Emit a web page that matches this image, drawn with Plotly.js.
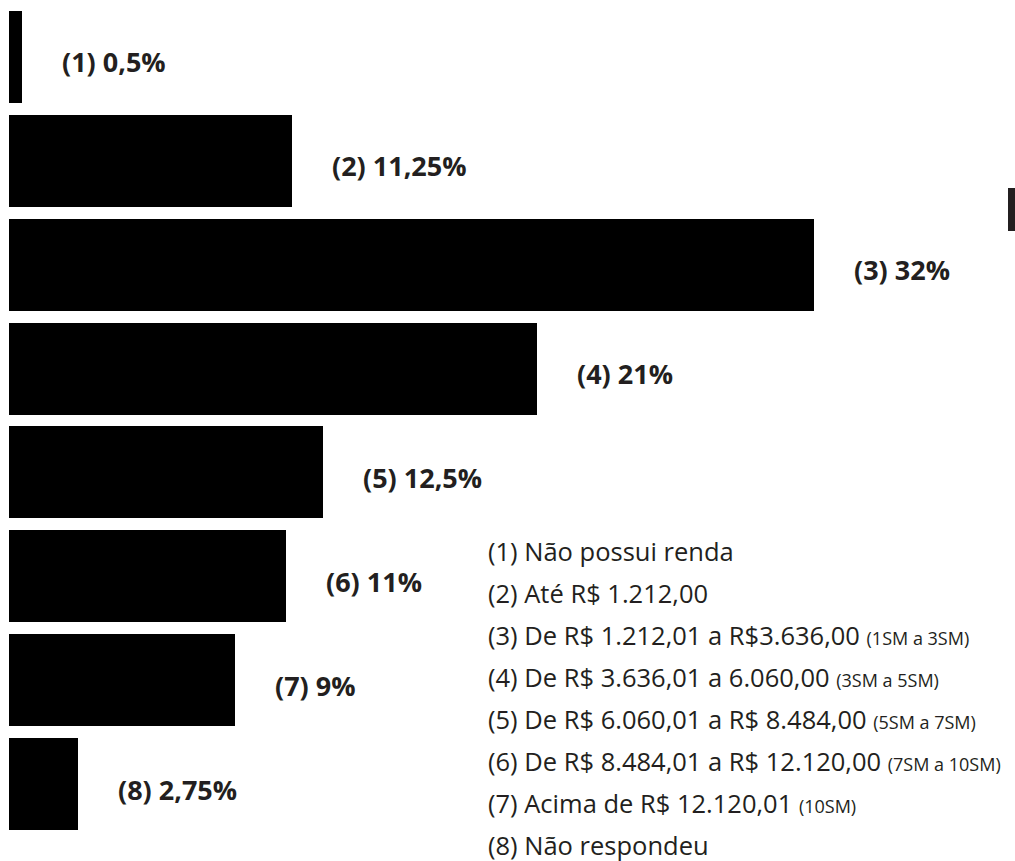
<!DOCTYPE html>
<html>
<head>
<meta charset="utf-8">
<script src="https://cdn.plot.ly/plotly-3.0.1.min.js"></script>
<style>html,body{margin:0;padding:0;background:#fff;}#chart{width:1015px;height:861px;}</style>
</head>
<body>
<div id="chart"></div>
<script>
// ---- data ----
const codes = ["(1)", "(2)", "(3)", "(4)", "(5)", "(6)", "(7)", "(8)"];
const values = [0.5, 11.25, 32, 21, 12.5, 11, 9, 2.75];
const valueLabels = ["0,5%", "11,25%", "32%", "21%", "12,5%", "11%", "9%", "2,75%"];
const legendMain = [
  "Não possui renda",
  "Até R$ 1.212,00",
  "De R$ 1.212,01 a R$3.636,00",
  "De R$ 3.636,01 a 6.060,00",
  "De R$ 6.060,01 a R$ 8.484,00",
  "De R$ 8.484,01 a R$ 12.120,00",
  "Acima de R$ 12.120,01",
  "Não respondeu"
];
const legendNote = ["", "", "(1SM a 3SM)", "(3SM a 5SM)", "(5SM a 7SM)", "(7SM a 10SM)", "(10SM)", ""];

// ---- layout helpers ----
const W = 1015, H = 861;
const M = {l: 9, r: 0, t: 5, b: 25};
const plotH = H - M.t - M.b;
const plotW = W - M.l - M.r;
const py = p => (H - M.b - p) / plotH;   // pixel y -> paper y
const px = p => (p - M.l) / plotW;       // pixel x -> paper x

const ink = "#231f20";
const FONT = "'Open Sans', 'Noto Sans', sans-serif";
const idx = values.map((v, i) => i);

const trace = {
  type: "bar",
  orientation: "h",
  x: values,
  y: idx,
  width: 0.886,
  marker: {color: "#000000"},
  hoverinfo: "skip"
};

const annotations = [];
values.forEach((v, i) => {
  annotations.push({
    x: v, y: i, xref: "x", yref: "y",
    xanchor: "left", yanchor: "middle",
    xshift: 38, yshift: -5,
    showarrow: false,
    text: "<b>" + codes[i] + " " + valueLabels[i] + "</b>",
    font: {family: FONT, size: 27, color: ink}
  });
});

const legendStart = 551, legendStep = 42;
legendMain.forEach((t, i) => {
  let txt = codes[i] + " " + t;
  if (legendNote[i]) txt += " <span style='font-size:18px'>" + legendNote[i] + "</span>";
  annotations.push({
    x: px(486), y: py(legendStart + i * legendStep),
    xref: "paper", yref: "paper",
    xanchor: "left", yanchor: "middle",
    showarrow: false,
    text: txt,
    font: {family: FONT, size: 25.5, color: ink}
  });
});

const layout = {
  width: W, height: H,
  margin: M,
  paper_bgcolor: "#ffffff",
  plot_bgcolor: "#ffffff",
  showlegend: false,
  bargap: 0,
  xaxis: {range: [0, 40], visible: false, fixedrange: true},
  yaxis: {range: [7.5, -0.5], visible: false, fixedrange: true},
  annotations: annotations,
  shapes: [{
    type: "rect", xref: "paper", yref: "paper",
    x0: px(1008), x1: px(1016), y0: py(231), y1: py(188),
    fillcolor: ink, line: {width: 0}
  }]
};

Plotly.newPlot("chart", [trace], layout, {displayModeBar: false, staticPlot: true});
</script>
</body>
</html>
